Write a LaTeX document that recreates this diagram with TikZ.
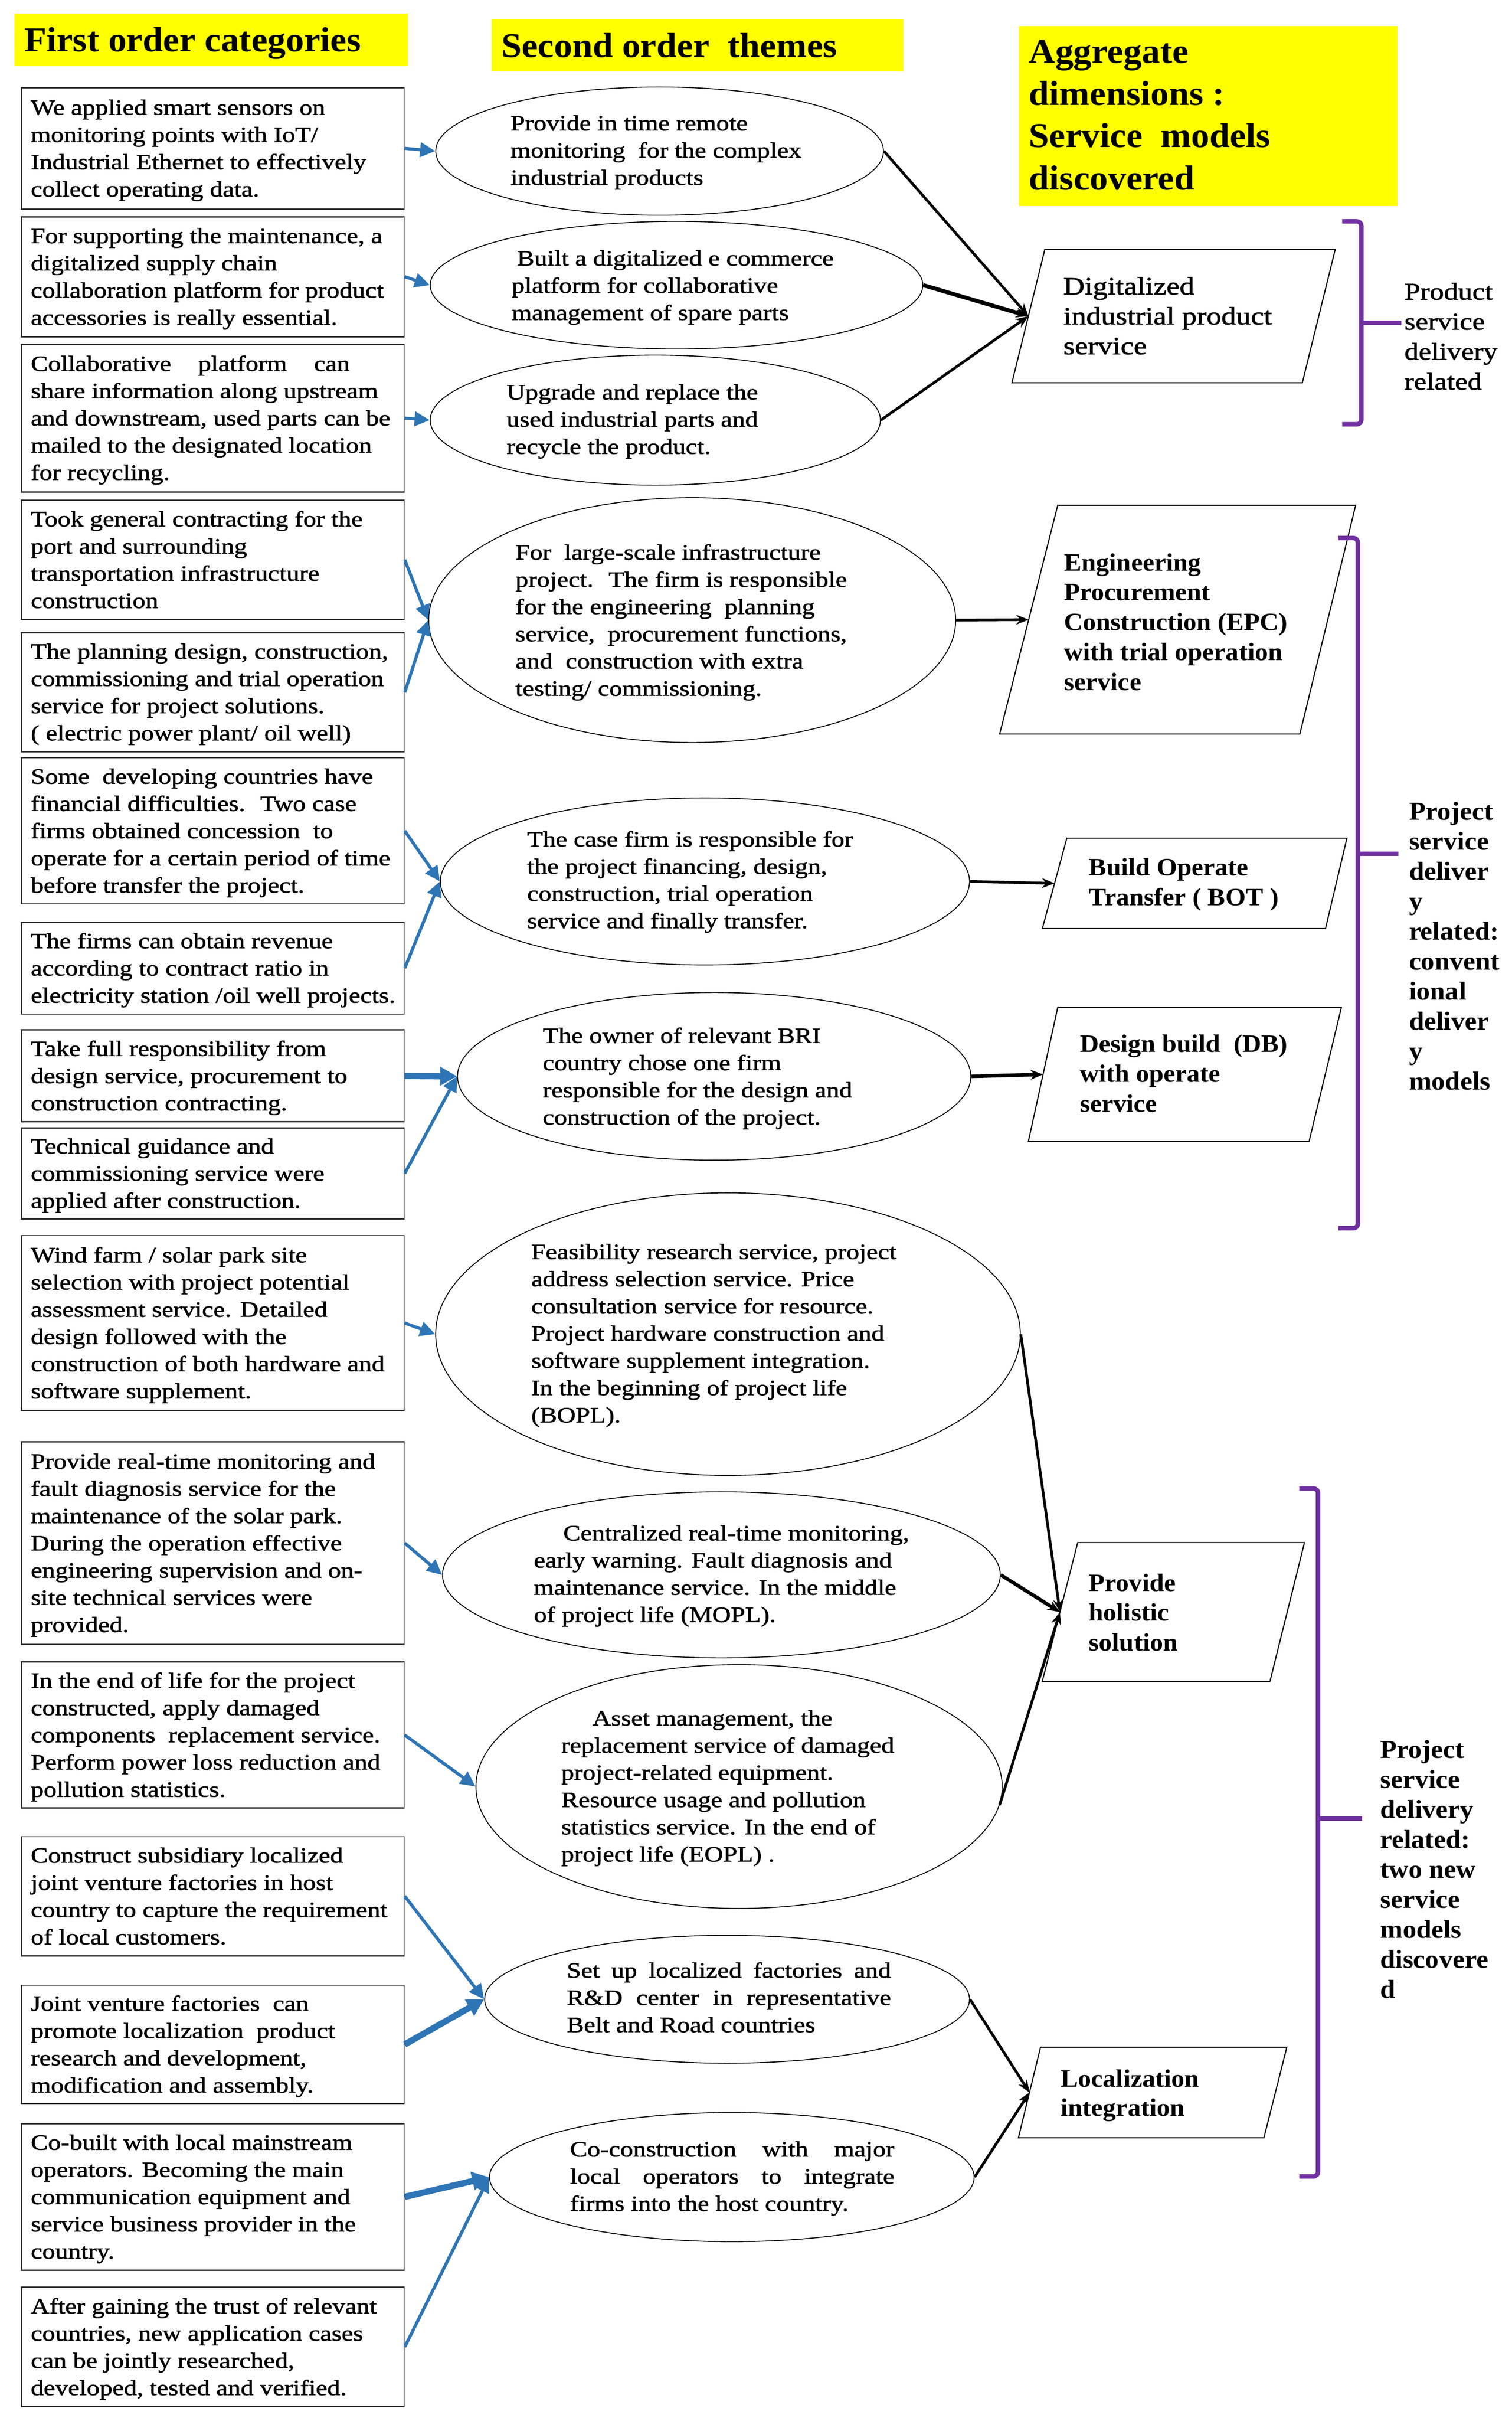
\documentclass[tikz,border=0pt]{standalone}
\usepackage{fontspec}
\setmainfont{Liberation Serif}[FakeStretch=1.18,FakeBold=1.5]
\newfontfamily\wideb{Liberation Serif}[FakeStretch=1.05]
\usetikzlibrary{shapes.geometric,arrows.meta,calc}
\definecolor{hdry}{RGB}{255,255,0}
\definecolor{arrblue}{RGB}{46,117,182}
\definecolor{brkpurple}{RGB}{112,48,160}
\newcommand\uu{3.445pt}
\newcommand\stx[1]{\strut#1\strut}
\tikzset{
  lbox/.style={draw=black!80, line width=3pt, minimum width=249*\uu, inner sep=0},
  lbtxt/.style={inner sep=0, align=left, anchor=west, font=\fontsize{49}{61}\selectfont},
  ell/.style={ellipse, draw=black, line width=2pt, inner sep=0},
  etxt/.style={inner sep=0, align=left, anchor=north west, font=\fontsize{49}{61}\selectfont},
  hdr/.style={fill=hdry, inner sep=0},
  htxt/.style={inner sep=0, align=left, font=\wideb\bfseries\fontsize{78}{94.4}\selectfont},
  pgram/.style={draw=black, line width=2.5pt},
  ptxtb/.style={inner sep=0, align=left, anchor=north west, font=\wideb\bfseries\fontsize{56}{67}\selectfont},
  ptxtr/.style={inner sep=0, align=left, anchor=north west, font=\fontsize{56}{67}\selectfont},
  brk/.style={draw=brkpurple, line width=10pt, rounded corners=10pt},
  brtxtr/.style={inner sep=0, align=left, anchor=north west, font=\fontsize{54}{67.2}\selectfont},
  brtxtb/.style={inner sep=0, align=left, anchor=north west, font=\wideb\bfseries\fontsize{58}{67.2}\selectfont},
  blarr/.style={draw=arrblue, line width=7pt, -{Triangle[length=34pt,width=32pt]}},
  blthick/.style={draw=arrblue, line width=14pt, -{Triangle[length=38pt,width=40pt]}},
  barr/.style={draw=black, line width=6pt, -{Stealth[length=28pt,width=22pt]}}
}
\begin{document}
\begin{tikzpicture}[x=3.445pt,y=-3.445pt]
\fill[white] (0,0) rectangle (984,1573);
\useasboundingbox (0,0) rectangle (984,1573);

% ---------- headers ----------
\node[hdr, minimum width=256.1*\uu, minimum height=34.1*\uu] (h1) at (137.45,25.95) {};
\node[hdr, minimum width=268*\uu, minimum height=33.9*\uu] (h2) at (454,29.35) {};
\node[hdr, minimum width=246.1*\uu, minimum height=117*\uu] (h3) at (786.35,75.5) {};
\node[htxt, anchor=base west] (h1t) at (15.7,33.4) {First order categories};
\node[htxt, anchor=base west] (h2t) at (326.3,37.2) {Second order \ themes};
\node[htxt, anchor=north west] (h3t) at (669.6,21.9) {\stx{Aggregate\\dimensions :\\Service \ models\\discovered}};

% ---------- first order boxes ----------
\node[lbox, minimum height=79*\uu] (b1) at (138.5,96.5) {};
\node[lbox, minimum height=78*\uu] (b2) at (138.5,180) {};
\node[lbox, minimum height=96*\uu] (b3) at (138.5,272) {};
\node[lbox, minimum height=77.6*\uu] (b4) at (138.5,364.2) {};
\node[lbox, minimum height=77.3*\uu] (b5) at (138.5,450.35) {};
\node[lbox, minimum height=95*\uu] (b6) at (138.5,540.5) {};
\node[lbox, minimum height=59.7*\uu] (b7) at (138.5,629.85) {};
\node[lbox, minimum height=59.8*\uu] (b8) at (138.5,699.9) {};
\node[lbox, minimum height=59.3*\uu] (b9) at (138.5,763.35) {};
\node[lbox, minimum height=113.8*\uu] (b10) at (138.5,860.7) {};
\node[lbox, minimum height=131.7*\uu] (b11) at (138.5,1003.85) {};
\node[lbox, minimum height=95*\uu] (b12) at (138.5,1128.7) {};
\node[lbox, minimum height=77.5*\uu] (b13) at (138.5,1233.55) {};
\node[lbox, minimum height=77.1*\uu] (b14) at (138.5,1329.95) {};
\node[lbox, minimum height=95.3*\uu] (b15) at (138.5,1429.15) {};
\node[lbox, minimum height=77.6*\uu] (b16) at (138.5,1526.8) {};

\node[lbtxt] (b1t) at (20,97.7) {\stx{We applied smart sensors on\\monitoring points with IoT/\\Industrial Ethernet to effectively\\collect operating data.}};
\node[lbtxt] (b2t) at (20,181.2) {\stx{For supporting the maintenance, a\\digitalized supply chain\\collaboration platform for product\\accessories is really essential.}};
\node[lbtxt] (b3t) at (20,273.2) {\stx{\makebox[715pt][s]{Collaborative platform can}\\share information along upstream\\and downstream, used parts can be\\mailed to the designated location\\for recycling.}};
\node[lbtxt] (b4t) at (20,365.4) {\stx{Took general contracting for the\\port and surrounding\\transportation infrastructure\\construction}};
\node[lbtxt] (b5t) at (20,451.55) {\stx{The planning design, construction,\\commissioning and trial operation\\service for project solutions.\\( electric power plant/ oil well)}};
\node[lbtxt] (b6t) at (20,541.7) {\stx{Some \ developing countries have\\financial difficulties. \ Two case\\firms obtained concession \ to\\operate for a certain period of time\\before transfer the project.}};
\node[lbtxt] (b7t) at (20,631.05) {\stx{The firms can obtain revenue\\according to contract ratio in\\electricity station /oil well projects.}};
\node[lbtxt] (b8t) at (20,701.1) {\stx{Take full responsibility from\\design service, procurement to\\construction contracting.}};
\node[lbtxt] (b9t) at (20,764.55) {\stx{Technical guidance and\\commissioning service were\\applied after construction.}};
\node[lbtxt] (b10t) at (20,861.9) {\stx{Wind farm / solar park site\\selection with project potential\\assessment service. Detailed\\design followed with the\\construction of both hardware and\\software supplement.}};
\node[lbtxt] (b11t) at (20,1005.05) {\stx{Provide real-time monitoring and\\fault diagnosis service for the\\maintenance of the solar park.\\During the operation effective\\engineering supervision and on-\\site technical services were\\provided.}};
\node[lbtxt] (b12t) at (20,1129.9) {\stx{In the end of life for the project\\constructed, apply damaged\\components \ replacement service.\\Perform power loss reduction and\\pollution statistics.}};
\node[lbtxt] (b13t) at (20,1234.75) {\stx{Construct subsidiary localized\\joint venture factories in host\\country to capture the requirement\\of local customers.}};
\node[lbtxt] (b14t) at (20,1331.15) {\stx{Joint venture factories \ can\\promote localization \ product\\research and development,\\modification and assembly.}};
\node[lbtxt] (b15t) at (20,1430.35) {\stx{Co-built with local mainstream\\operators. Becoming the main\\communication equipment and\\service business provider in the\\country.}};
\node[lbtxt] (b16t) at (20,1528) {\stx{After gaining the trust of relevant\\countries, new application cases\\can be jointly researched,\\developed, tested and verified.}};

% ---------- second order ellipses ----------
\node[ell, minimum width=291.4*\uu, minimum height=83.4*\uu] (e1) at (429.3,98.3) {};
\node[ell, minimum width=320.6*\uu, minimum height=83*\uu] (e2) at (440.3,185.5) {};
\node[ell, minimum width=293*\uu, minimum height=84.6*\uu] (e3) at (426.5,273.3) {};
\node[ell, minimum width=343*\uu, minimum height=159.3*\uu] (e4) at (450.5,403.4) {};
\node[ell, minimum width=344.4*\uu, minimum height=108.7*\uu] (e5) at (458.8,573.4) {};
\node[ell, minimum width=334.1*\uu, minimum height=109.1*\uu] (e6) at (464.8,700.2) {};
\node[ell, minimum width=380.5*\uu, minimum height=183.8*\uu] (e7) at (473.8,867.9) {};
\node[ell, minimum width=363*\uu, minimum height=108*\uu] (e8) at (469.5,1024.5) {};
\node[ell, minimum width=342.5*\uu, minimum height=158.6*\uu] (e9) at (481,1162.2) {};
\node[ell, minimum width=315.6*\uu, minimum height=83.2*\uu] (e10) at (473.2,1300.6) {};
\node[ell, minimum width=315.4*\uu, minimum height=84*\uu] (e11) at (476.3,1416.3) {};

\node[etxt] (e1t) at (332.3,72.4) {\stx{Provide in time remote\\monitoring \ for the complex\\industrial products}};
\node[etxt] (e2t) at (333,160.3) {\stx{\hspace*{12pt}Built a digitalized e commerce\\platform for collaborative\\management of spare parts}};
\node[etxt] (e3t) at (329.7,247.4) {\stx{Upgrade and replace the\\used industrial parts and\\recycle the product.}};
\node[etxt] (e4t) at (335.4,351.6) {\stx{For \ large-scale infrastructure\\project. \ The firm is responsible\\for the engineering \ planning\\service, \ procurement functions,\\and \ construction with extra\\testing/ commissioning.}};
\node[etxt] (e5t) at (343,538.2) {\stx{The case firm is responsible for\\the project financing, design,\\construction, trial operation\\service and finally transfer.}};
\node[etxt] (e6t) at (353.2,666) {\stx{The owner of relevant BRI\\country chose one firm\\responsible for the design and\\construction of the project.}};
\node[etxt] (e7t) at (345.7,806.6) {\stx{Feasibility research service, project\\address selection service. Price\\consultation service for resource.\\Project hardware construction and\\software supplement integration.\\In the beginning of project life\\(BOPL).}};
\node[etxt] (e8t) at (347.4,989.6) {\stx{\hspace*{66pt}Centralized real-time monitoring,\\early warning. Fault diagnosis and\\maintenance service. In the middle\\of project life (MOPL).}};
\node[etxt] (e9t) at (365.2,1110) {\stx{\hspace*{70pt}Asset management, the\\replacement service of damaged\\project-related equipment.\\Resource usage and pollution\\statistics service. In the end of\\project life (EOPL) .}};
\node[etxt] (e10t) at (368.8,1274.1) {\stx{\makebox[727pt][s]{Set up localized factories and}\\\makebox[727pt][s]{R\&D center in representative}\\Belt and Road countries}};
\node[etxt] (e11t) at (371,1390.4) {\stx{\makebox[727pt][s]{Co-construction with major}\\\makebox[727pt][s]{local operators to integrate}\\firms into the host country.}};

% ---------- aggregate parallelograms ----------
\coordinate (p1a) at (680,162.3);   \coordinate (p1b) at (869,162.3);
\coordinate (p1c) at (847.6,249);   \coordinate (p1d) at (658.6,249);
\coordinate (p2a) at (688.4,328.7); \coordinate (p2b) at (882.3,328.7);
\coordinate (p2c) at (846,477.5);   \coordinate (p2d) at (650.6,477.5);
\coordinate (p3a) at (694.3,545.3); \coordinate (p3b) at (876.6,545.3);
\coordinate (p3c) at (862.7,604);   \coordinate (p3d) at (678.4,604);
\coordinate (p4a) at (688.4,655.4); \coordinate (p4b) at (873,655.4);
\coordinate (p4c) at (852,742.5);   \coordinate (p4d) at (669.3,742.5);
\coordinate (p5a) at (701.4,1003.5);\coordinate (p5b) at (849,1003.5);
\coordinate (p5c) at (826.5,1093.9);\coordinate (p5d) at (678.3,1093.9);
\coordinate (p6a) at (677.2,1331.8);\coordinate (p6b) at (837.5,1331.8);
\coordinate (p6c) at (822.6,1390.7);\coordinate (p6d) at (662.8,1390.7);
\foreach \p in {p1,p2,p3,p4,p5,p6}{
  \draw[pgram] (\p a) -- (\p b) -- (\p c) -- (\p d) -- cycle;
  \coordinate (\p in) at ($(\p a)!0.5!(\p d)$);
}
\node[ptxtr] (p1t) at (692,177.9) {\stx{Digitalized\\industrial product\\service}};
\node[ptxtb] (p2t) at (692.5,357.6) {\stx{Engineering\\Procurement\\Construction (EPC)\\with trial operation\\service}};
\node[ptxtb] (p3t) at (708.7,555.9) {\stx{Build Operate\\Transfer ( BOT )}};
\node[ptxtb] (p4t) at (702.8,670.8) {\stx{Design build \ (DB)\\with operate\\service}};
\node[ptxtb] (p5t) at (708.6,1021.4) {\stx{Provide\\holistic\\solution}};
\node[ptxtb, font=\wideb\bfseries\fontsize{56}{65}\selectfont] (p6t) at (690.3,1344.4) {\stx{Localization\\integration}};

% ---------- brackets ----------
\draw[brk] (873.5,144) -- (886,144) -- (886,276) -- (873.5,276);
\draw[brk] (886,210) -- (912,210);
\draw[brk] (871,350) -- (883.7,350) -- (883.7,799) -- (871,799);
\draw[brk] (883.7,555.3) -- (910,555.3);
\draw[brk] (845.7,968.3) -- (857.8,968.3) -- (857.8,1415.8) -- (845.7,1415.8);
\draw[brk] (857.8,1183) -- (886.5,1183);
\node[brtxtr] (k1t) at (914,181.2) {\stx{Product\\service\\delivery\\related}};
\node[brtxtb] (k2t) at (917,519.7) {\stx{Project\\service\\deliver\\y\\related:\\convent\\ional\\deliver\\y\\models}};
\node[brtxtb] (k3t) at (898.2,1130) {\stx{Project\\service\\delivery\\related:\\two new\\service\\models\\discovere\\d}};

% ---------- blue connectors ----------
\draw[blarr] (b1.east) -- (e1.west);
\draw[blarr] (b2.east) -- (e2.west);
\draw[blarr] (b3.east) -- (e3.west);
\draw[blarr] (b4.east) -- (e4.west);
\draw[blarr] (b5.east) -- (e4.west);
\draw[blarr] (b6.east) -- (e5.west);
\draw[blarr] (b7.east) -- (e5.west);
\draw[blthick] (b8.east) -- (e6.west);
\draw[blarr] (b9.east) -- (e6.west);
\draw[blarr] (b10.east) -- (e7.west);
\draw[blarr] (b11.east) -- (e8.west);
\draw[blarr] (b12.east) -- (e9.west);
\draw[blarr] (b13.east) -- (e10.west);
\draw[blthick] (b14.east) -- (e10.west);
\draw[blthick] (b15.east) -- (e11.west);
\draw[blarr] (b16.east) -- (e11.west);

% ---------- black connectors ----------
\draw[barr] (e1.east) -- (p1in);
\draw[barr, line width=9pt] (e2.east) -- (p1in);
\draw[barr] (e3.east) -- (p1in);
\draw[barr] (e4.east) -- (p2in);
\draw[barr] (e5.east) -- (p3in);
\draw[barr, line width=8pt] (e6.east) -- (p4in);
\draw[barr] (e7.east) -- (p5in);
\draw[barr, line width=8pt] (e8.east) -- (p5in);
\draw[barr] (e9.-4) -- (p5in);
\draw[barr] (e10.east) -- (p6in);
\draw[barr] (e11.east) -- (p6in);
\end{tikzpicture}
\end{document}
